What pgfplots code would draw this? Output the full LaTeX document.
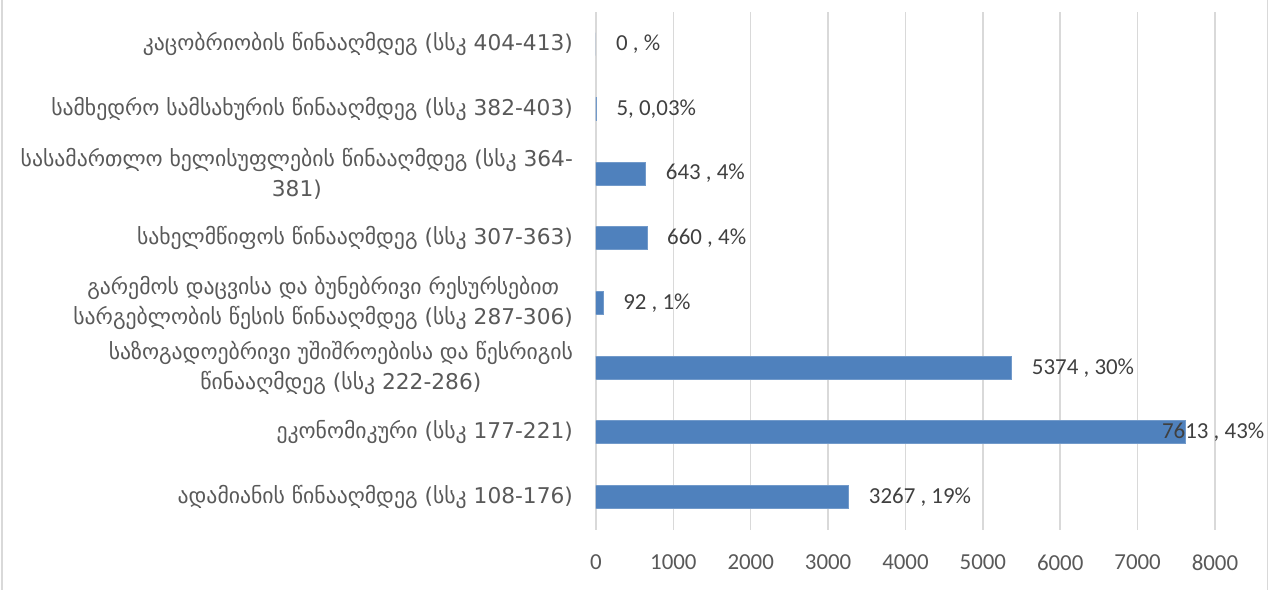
\documentclass[border=0pt]{standalone}
\usepackage{pgfplots}
\pgfplotsset{compat=1.18}
\usepackage{fontspec}
\setmainfont{Carlito}
\newfontfamily\geo{DejaVu Sans}
\definecolor{barblue}{HTML}{4F81BD}
\definecolor{gridgray}{HTML}{D9D9D9}
\definecolor{axtxt}{HTML}{595959}
\definecolor{lbltxt}{HTML}{404040}

\begin{document}
\begin{tikzpicture}
\begin{axis}[
    at={(0,0)}, anchor=south west,
    scale only axis, width=309.5bp, height=258.9bp,
    xbar, bar width=11.5bp, bar shift=0pt,
    xmin=0, xmax=8000, ymin=-0.5, ymax=7.5,
    xtick={0,1000,...,8000},
    ytick={0,...,7},
    yticklabels={
        {ადამიანის წინააღმდეგ (სსკ 108-176)},
        {ეკონომიკური (სსკ 177-221)},
        {საზოგადოებრივი უშიშროებისა და წესრიგის\\წინააღმდეგ (სსკ 222-286)},
        {გარემოს დაცვისა და ბუნებრივი რესურსებით\\სარგებლობის წესის წინააღმდეგ (სსკ 287-306)},
        {სახელმწიფოს წინააღმდეგ (სსკ 307-363)},
        {სასამართლო ხელისუფლების წინააღმდეგ (სსკ 364-\\381)},
        {სამხედრო სამსახურის წინააღმდეგ (სსკ 382-403)},
        {კაცობრიობის წინააღმდეგ (სსკ 404-413)}
    },
    axis line style={draw=none},
    major tick length=0pt,
    xmajorgrids, grid style={gridgray, line width=0.75bp},
    x tick label style={font=\fontsize{11.5}{13}\selectfont, text=axtxt, yshift=-9bp,
        /pgf/number format/1000 sep=, /pgf/number format/assume math mode=true},
    y tick label style={font=\geo\fontsize{10.9}{15}\selectfont, text=axtxt, align=center, xshift=-8bp},
    point meta=explicit symbolic,
    nodes near coords={\pgfplotspointmeta},
    every node near coord/.append style={font=\fontsize{11.5}{13}\selectfont, text=lbltxt, anchor=west, xshift=6.5bp},
]
\addplot[fill=barblue, draw=barblue!80!white, line width=0.5bp] coordinates {
    (3267,0) [3267 , 19\%]
    (7613,1) []
    (5374,2) [5374 , 30\%]
    (92,3) [92 , 1\%]
    (660,4) [660 , 4\%]
    (643,5) [643 , 4\%]
    (5,6) [5, 0,03\%]
    (0,7) [0 , \%]
};
\addplot[fill=none, draw=none, forget plot,
    every node near coord/.append style={xshift=-21.5bp}] coordinates {
    (7613,1) [7613 , 43\%]
};
\end{axis}
\draw[gridgray, line width=0.75bp] (-297bp,-30.25bp) -- (-297bp,264.75bp);
\draw[gridgray, line width=0.75bp] (335.75bp,-30.25bp) -- (335.75bp,264.75bp);
\pgfresetboundingbox
\useasboundingbox (-298bp,-30.25bp) rectangle (336.5bp,264.75bp);
\end{tikzpicture}
\end{document}
